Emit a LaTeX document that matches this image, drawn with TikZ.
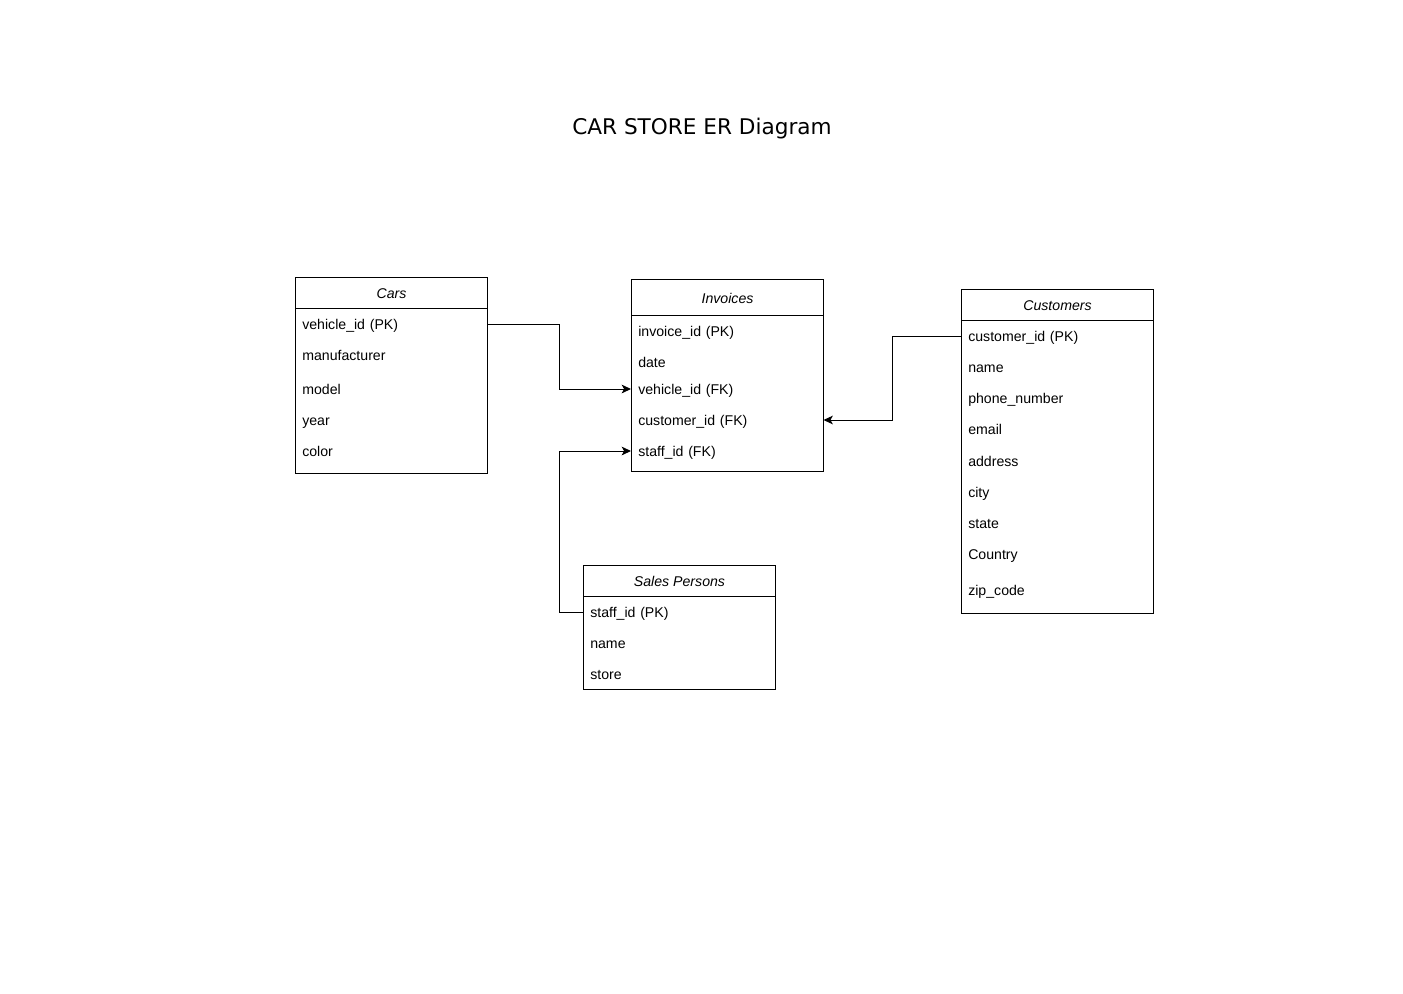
\documentclass[tikz,border=0pt]{standalone}
\usepackage{fontspec}
\setmainfont{Liberation Sans}
\newfontfamily\titlefont{DejaVu Sans}
\usetikzlibrary{arrows.meta}

\begin{document}
\begin{tikzpicture}[x=0.75pt, y=-0.75pt]
    \tikzset{
      table/.style={draw, line width=0.75pt, rectangle, minimum width=144pt, anchor=north west, inner sep=0pt},
      header/.style={draw, line width=0.75pt, rectangle, minimum width=144pt, minimum height=23.25pt, anchor=north west, inner sep=0pt, text height=10.6pt, text depth=2.2pt, font=\itshape\fontsize{10.6}{12}\selectfont},
      field/.style={rectangle, minimum width=144pt, text width=133.5pt, inner xsep=5.25pt, inner ysep=0pt, text height=10.6pt, text depth=2.2pt, align=left, anchor=west, font=\fontsize{10.6}{12}\selectfont},
      link/.style={line width=0.75pt, -{Stealth[length=7pt, width=6.5pt, inset=1.8pt]}}
    }
    \useasboundingbox (0,0) rectangle (1403,993);

    \node[font=\titlefont\fontsize{16.2}{19}\selectfont] (title) at (702,129) {CAR STORE ER Diagram};

    % Cars
    \node[table, minimum height=147pt] (cars) at (295,277) {};
    \node[header] (cars_head) at (295,277) {Cars};
    \node[field] (cars_vehicle) at (295,324) {vehicle\_id (PK)};
    \node[field] (cars_manufacturer) at (295,355) {manufacturer};
    \node[field] (cars_model) at (295,389) {model};
    \node[field] (cars_year) at (295,420) {year};
    \node[field] (cars_color) at (295,451) {color};

    % Invoices
    \node[table, minimum height=144pt] (invoices) at (631,279) {};
    \node[header, minimum height=27pt] (inv_head) at (631,279) {Invoices};
    \node[field] (inv_id) at (631,331) {invoice\_id (PK)};
    \node[field] (inv_date) at (631,362) {date};
    \node[field] (inv_vehicle) at (631,389) {vehicle\_id (FK)};
    \node[field] (inv_customer) at (631,420) {customer\_id (FK)};
    \node[field] (inv_staff) at (631,451) {staff\_id (FK)};

    % Customers
    \node[table, minimum height=243pt] (customers) at (961,289) {};
    \node[header] (cust_head) at (961,289) {Customers};
    \node[field] (cust_id) at (961,336) {customer\_id (PK)};
    \node[field] (cust_name) at (961,367) {name};
    \node[field] (cust_phone) at (961,398) {phone\_number};
    \node[field] (cust_email) at (961,429) {email};
    \node[field] (cust_address) at (961,461) {address};
    \node[field] (cust_city) at (961,492) {city};
    \node[field] (cust_state) at (961,523) {state};
    \node[field] (cust_country) at (961,554) {Country};
    \node[field] (cust_zip) at (961,590) {zip\_code};

    % Sales Persons
    \node[table, minimum height=93pt] (sales) at (583,565) {};
    \node[header] (sales_head) at (583,565) {Sales Persons};
    \node[field] (sales_staff) at (583,612) {staff\_id (PK)};
    \node[field] (sales_name) at (583,643) {name};
    \node[field] (sales_store) at (583,674) {store};

    \draw[link] (cars_vehicle.east) -- ++(72,0) |- (inv_vehicle.west);
    \draw[link] (cust_id.west) -- ++(-69,0) |- (inv_customer.east);
    \draw[link] (sales_staff.west) -- ++(-24,0) |- (inv_staff.west);
  \end{tikzpicture}
\end{document}
